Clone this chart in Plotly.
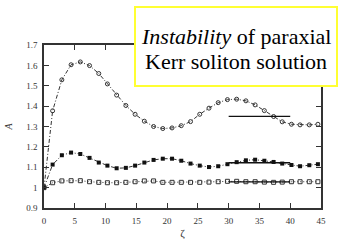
import plotly.graph_objects as go

zeta = [0, 1.4, 2.9, 4.4, 5.9, 7.4, 8.9, 10.3, 11.8, 13.3, 14.8, 16.3, 17.8, 19.3, 20.8,
        22.3, 23.8, 25.3, 26.8, 28.3, 29.8, 31.3, 32.8, 34.3, 35.8, 37.3, 38.7, 40.2,
        41.6, 43.1, 44.5]
a_top = [1.0, 1.377, 1.529, 1.603, 1.617, 1.599, 1.56, 1.509, 1.454, 1.403, 1.36, 1.326,
         1.30, 1.29, 1.293, 1.304, 1.324, 1.36, 1.39, 1.417, 1.432, 1.434, 1.426, 1.406,
         1.378, 1.349, 1.323, 1.311, 1.308, 1.308, 1.311]
a_mid = [1.0, 1.113, 1.159, 1.172, 1.165, 1.146, 1.123, 1.108, 1.095, 1.097, 1.108, 1.123,
         1.136, 1.142, 1.142, 1.132, 1.118, 1.108, 1.101, 1.105, 1.115, 1.125, 1.134,
         1.137, 1.132, 1.126, 1.118, 1.111, 1.105, 1.110, 1.115]
a_low = [1.0, 1.024, 1.033, 1.034, 1.034, 1.029, 1.026, 1.024, 1.024, 1.026, 1.029, 1.033,
         1.033, 1.026, 1.026, 1.026, 1.026, 1.026, 1.027, 1.029, 1.031, 1.031, 1.029,
         1.029, 1.027, 1.026, 1.027, 1.029, 1.029, 1.029, 1.029]
ref_x = [30, 40]
ref_levels = [1.35, 1.122, 1.028]
x_ticks = [0, 5, 10, 15, 20, 25, 30, 35, 40, 45]
y_ticks = [0.9, 1.0, 1.1, 1.2, 1.3, 1.4, 1.5, 1.6, 1.7]

SERIF = "Liberation Serif, Times New Roman, DejaVu Serif, serif"
ink = "#333333"
fig = go.Figure()
fig.add_trace(go.Scatter(x=zeta, y=a_top, mode="lines+markers",
                         line=dict(color=ink, width=1, dash="4px,2px,1px,2px"),
                         marker=dict(symbol="circle-open", size=4, color=ink, line=dict(width=1))))
fig.add_trace(go.Scatter(x=zeta, y=a_mid, mode="lines+markers",
                         line=dict(color=ink, width=1, dash="4px,2px,1px,2px"),
                         marker=dict(symbol="square", size=4, color="#111")))
fig.add_trace(go.Scatter(x=zeta, y=a_low, mode="lines+markers",
                         line=dict(color=ink, width=1, dash="1px,2px"),
                         marker=dict(symbol="square-open", size=4, color=ink, line=dict(width=1))))
for lvl in ref_levels:
    fig.add_trace(go.Scatter(x=ref_x, y=[lvl, lvl], mode="lines",
                             line=dict(color="#111", width=1.3)))

axis_common = dict(showline=True, linecolor=ink, linewidth=1.5, mirror="ticks",
                   ticks="inside", ticklen=5, tickwidth=1.3, tickcolor=ink,
                   showgrid=False, zeroline=False, ticklabelstandoff=3, automargin=False,
                   tickfont=dict(family=SERIF, size=9, color="#333"))
fig.update_xaxes(range=[0, 45], tickvals=x_ticks, **axis_common,
                 title=dict(text="ζ", font=dict(family=SERIF, size=11, color="#333"),
                            standoff=10))
fig.update_yaxes(range=[0.9, 1.7], tickvals=y_ticks,
                 ticktext=["0.9", "1", "1.1", "1.2", "1.3", "1.4", "1.5", "1.6", "1.7"],
                 **axis_common,
                 title=dict(text="<i>A</i>", font=dict(family=SERIF, size=10, color="#333"),
                            standoff=12))

# title box
W, L, R, T, B = 344, 44, 321, 45, 208
px = lambda p: (p - L) / (R - L)
py = lambda p: (B - p) / (B - T)
fig.add_shape(type="rect", xref="paper", yref="paper", x0=px(135), x1=px(337),
              y0=py(86), y1=py(7), fillcolor="white", line=dict(color="#ffff33", width=2),
              layer="above")
fig.add_annotation(xref="paper", yref="paper", x=px(236), y=py(36), showarrow=False,
                   xanchor="center", yanchor="middle",
                   text="<i>Instability</i> of paraxial",
                   font=dict(family=SERIF, size=22, color="black"))
fig.add_annotation(xref="paper", yref="paper", x=px(236), y=py(62), showarrow=False,
                   xanchor="center", yanchor="middle",
                   text="Kerr soliton solution",
                   font=dict(family=SERIF, size=22, color="black"))

fig.update_layout(width=344, height=240, margin=dict(l=L, r=W - R, t=T, b=240 - B),
                  showlegend=False, plot_bgcolor="white", paper_bgcolor="white",
                  font=dict(family=SERIF))
fig.write_html("out.html")
